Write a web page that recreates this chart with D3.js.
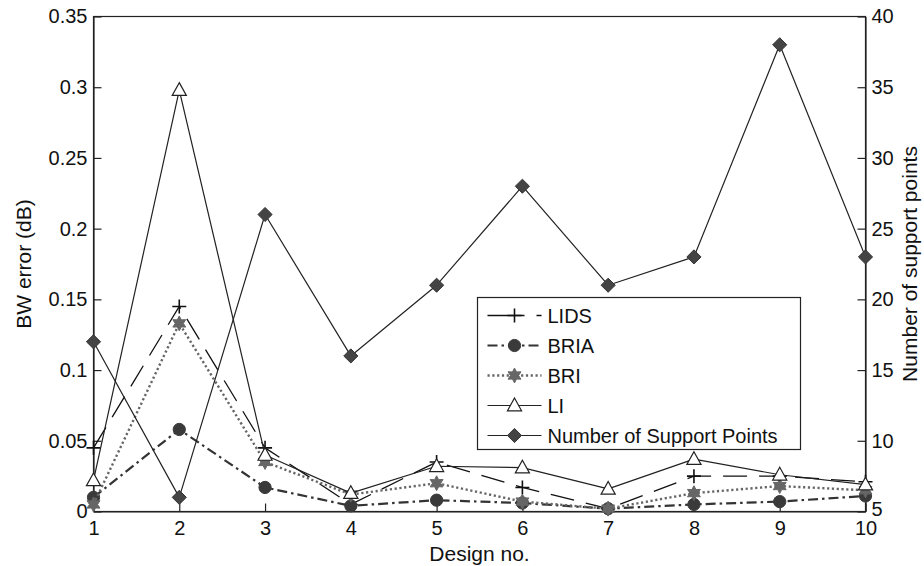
<!DOCTYPE html>
<html>
<head>
<meta charset="utf-8">
<script src="https://cdn.jsdelivr.net/npm/d3@7"></script>
<style>
  body { margin: 0; background: #fff; }
  svg { display: block; font-family: "Liberation Sans", Arial, Helvetica, sans-serif; }
</style>
</head>
<body>
<svg id="chart" width="924" height="566"></svg>
<script>
// ---- data ----
const designs = [1, 2, 3, 4, 5, 6, 7, 8, 9, 10];
const lids = [0.045, 0.145, 0.045, 0.005, 0.035, 0.017, 0.002, 0.025, 0.025, 0.021];
const bria = [0.010, 0.058, 0.017, 0.004, 0.008, 0.006, 0.002, 0.005, 0.007, 0.011];
const bri  = [0.005, 0.133, 0.035, 0.012, 0.020, 0.007, 0.002, 0.013, 0.018, 0.015];
const li   = [0.022, 0.298, 0.040, 0.013, 0.032, 0.031, 0.016, 0.037, 0.026, 0.019];
const supportPoints = [17, 6, 26, 16, 21, 28, 21, 23, 38, 23];
const leftTicks = [0, 0.05, 0.1, 0.15, 0.2, 0.25, 0.3, 0.35];
const rightTicks = [5, 10, 15, 20, 25, 30, 35, 40];
const legendLabels = ["LIDS", "BRIA", "BRI", "LI", "Number of Support Points"];

// ---- layout ----
const svg = d3.select("#chart");
const L = 93.5, R = 865.5, T = 16.5, B = 511.5;
const x = d3.scaleLinear().domain([1, 10]).range([L, R]);
const yL = d3.scaleLinear().domain([0, 0.35]).range([B, T]);
const yR = d3.scaleLinear().domain([5, 40]).range([B, T]);
const ink = "#222";
const tickFont = 20, titleFont = 21, legendFont = 20;

// custom symbols
const plusSym = { draw(c, s) { const r = Math.sqrt(s) / 2; c.moveTo(-r, 0); c.lineTo(r, 0); c.moveTo(0, -r); c.lineTo(0, r); } };
const diamondSym = { draw(c, s) { const r = Math.sqrt(s) / 2; c.moveTo(0, -r); c.lineTo(r, 0); c.lineTo(0, r); c.lineTo(-r, 0); c.closePath(); } };
const hexSym = { draw(c, s) {
  const R1 = Math.sqrt(s) / 2, R2 = R1 * 0.55;
  for (let i = 0; i < 12; i++) {
    const a = -Math.PI / 2 + i * Math.PI / 6;
    const rr = i % 2 === 0 ? R1 : R2;
    if (i === 0) c.moveTo(rr * Math.cos(a), rr * Math.sin(a)); else c.lineTo(rr * Math.cos(a), rr * Math.sin(a));
  }
  c.closePath();
} };
const triSym = { draw(c, s) { const r = Math.sqrt(s) / 2; c.moveTo(0, -r * 1.05); c.lineTo(r, r * 0.75); c.lineTo(-r, r * 0.75); c.closePath(); } };
const circSym = { draw(c, s) { const r = Math.sqrt(s) / 2; c.moveTo(r, 0); c.arc(0, 0, r, 0, 2 * Math.PI); } };

const series = [
  { name: legendLabels[0], vals: lids, y: yL, stroke: "#111", width: 1.3, dash: "24,12", ldash: "37,12", sym: plusSym, size: 196, fill: "none", mstroke: "#111", mwidth: 1.6 },
  { name: legendLabels[1], vals: bria, y: yL, stroke: "#333", width: 2.2, dash: "10,4,2.5,4", sym: circSym, size: 150, fill: "#3a3a3a", mstroke: "#3a3a3a", mwidth: 1 },
  { name: legendLabels[2], vals: bri, y: yL, stroke: "#666", width: 2.4, dash: "2.2,2.6", sym: hexSym, size: 220, fill: "#666", mstroke: "#666", mwidth: 1 },
  { name: legendLabels[3], vals: li, y: yL, stroke: "#222", width: 1.2, dash: null, sym: triSym, size: 200, fill: "#fff", mstroke: "#222", mwidth: 1.2 },
  { name: legendLabels[4], vals: supportPoints, y: yR, stroke: "#222", width: 1.2, dash: null, sym: diamondSym, size: 200, fill: "#444", mstroke: "#333", mwidth: 1 }
];

// plot box
svg.append("rect").attr("x", L).attr("y", T).attr("width", R - L).attr("height", B - T)
  .attr("fill", "none").attr("stroke", ink).attr("stroke-width", 1.2);

// axes
const tickLen = 8;
const axL = d3.axisLeft(yL).tickValues(leftTicks).tickFormat(d => String(+d.toFixed(2))).tickSizeInner(-tickLen).tickSizeOuter(0).tickPadding(6);
const axR = d3.axisRight(yR).tickValues(rightTicks).tickSizeInner(-tickLen).tickSizeOuter(0).tickPadding(6);
const axB = d3.axisBottom(x).tickValues(designs).tickSizeInner(-tickLen).tickSizeOuter(0).tickPadding(9);

function styleAxis(g) {
  g.select(".domain").attr("stroke", ink).attr("stroke-width", 1.2);
  g.selectAll(".tick line").attr("stroke", ink).attr("stroke-width", 1.2);
  g.selectAll(".tick text").attr("fill", "#111").attr("font-size", tickFont).attr("font-family", "Liberation Sans, Arial, sans-serif");
}
svg.append("g").attr("transform", `translate(${L},0)`).call(axL).call(styleAxis);
const gR = svg.append("g").attr("transform", `translate(${R},0)`).call(axR).call(styleAxis);
// lift the bottom "5" so it sits just above the "10" of the x axis
gR.selectAll(".tick text").filter(d => d === 5).attr("dy", "0.2em");
const gB = svg.append("g").attr("transform", `translate(0,${B})`).call(axB).call(styleAxis);
gB.selectAll(".tick text").attr("dy", "0.71em");

// axis titles
svg.append("text").attr("transform", `translate(31,${(T + B) / 2}) rotate(-90)`).attr("text-anchor", "middle")
  .attr("font-size", titleFont).attr("fill", "#111").text("BW error (dB)");
svg.append("text").attr("transform", `translate(917,${(T + B) / 2}) rotate(-90)`).attr("text-anchor", "middle")
  .attr("font-size", titleFont).attr("fill", "#111").text("Number of support points");
svg.append("text").attr("x", (L + R) / 2).attr("y", 561).attr("text-anchor", "middle")
  .attr("font-size", titleFont).attr("fill", "#111").text("Design no.");

// lines + markers
series.forEach(s => {
  const line = d3.line().x((d, i) => x(designs[i])).y(d => s.y(d));
  svg.append("path").datum(s.vals).attr("d", line).attr("fill", "none")
    .attr("stroke", s.stroke).attr("stroke-width", s.width)
    .attr("stroke-dasharray", s.dash).attr("stroke-linejoin", "round");
  svg.append("g").selectAll("path").data(s.vals).join("path")
    .attr("transform", (d, i) => `translate(${x(designs[i])},${s.y(d)})`)
    .attr("d", d3.symbol(s.sym, s.size)())
    .attr("fill", s.fill).attr("stroke", s.mstroke).attr("stroke-width", s.mwidth);
});

// legend
const lgX = 477.5, lgY = 297.5, lgW = 323, lgH = 152;
svg.append("rect").attr("x", lgX).attr("y", lgY).attr("width", lgW).attr("height", lgH)
  .attr("fill", "#fff").attr("stroke", ink).attr("stroke-width", 1.2);
series.forEach((s, i) => {
  const yy = lgY + 18 + i * 30;
  svg.append("line").attr("x1", lgX + 10).attr("x2", lgX + 64).attr("y1", yy).attr("y2", yy)
    .attr("stroke", s.stroke).attr("stroke-width", s.width).attr("stroke-dasharray", s.ldash || s.dash);
  svg.append("path").attr("transform", `translate(${lgX + 37},${yy})`).attr("d", d3.symbol(s.sym, s.size)())
    .attr("fill", s.fill).attr("stroke", s.mstroke).attr("stroke-width", s.mwidth);
  svg.append("text").attr("x", lgX + 70).attr("y", yy).attr("dy", "0.36em")
    .attr("font-size", legendFont).attr("fill", "#111").text(s.name);
});
</script>
</body>
</html>
